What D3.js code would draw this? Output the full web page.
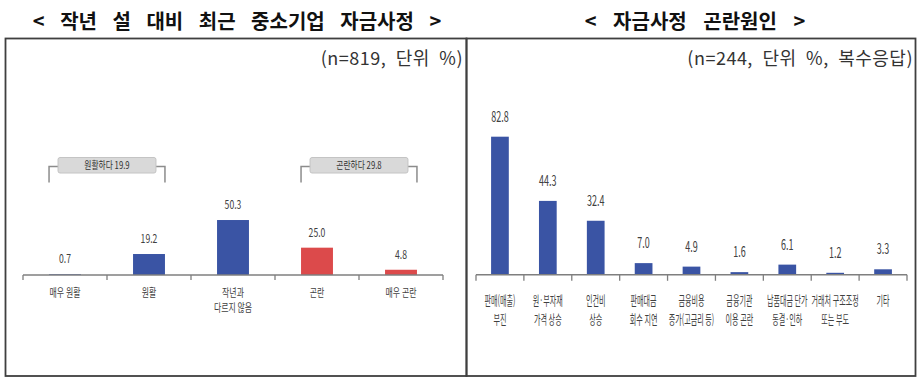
<!DOCTYPE html>
<html><head><meta charset="utf-8">
<script src="https://cdn.jsdelivr.net/npm/d3@7"></script>
<style>
html,body{margin:0;padding:0;background:#fff;}
svg{display:block;font-family:"Noto Sans CJK KR","Noto Sans",sans-serif;}
</style></head>
<body><svg id="c" width="922" height="380"></svg>
<script>
// ---- data ----
const leftTitle = "< 작년 설 대비 최근 중소기업 자금사정 >";
const leftNote = "(n=819, 단위 %)";
const leftCategories = [["매우 원활"], ["원활"], ["작년과", "다르지 않음"], ["곤란"], ["매우 곤란"]];
const leftValues = [0.7, 19.2, 50.3, 25.0, 4.8];
const leftColors = ["#3a54a4", "#3a54a4", "#3a54a4", "#dc4a4b", "#dc4a4b"];
const groupNames = ["원활하다", "곤란하다"];
const groupMembers = [[0, 1], [3, 4]];

const rightTitle = "< 자금사정 곤란원인 >";
const rightNote = "(n=244, 단위 %, 복수응답)";
const rightCategories = [["판매(매출)", "부진"], ["원·부자재", "가격 상승"], ["인건비", "상승"], ["판매대금", "회수 지연"],
  ["금융비용", "증가(고금리 등)"], ["금융기관", "이용 곤란"], ["납품대금 단가", "동결·인하"], ["거래처 구조조정", "또는 부도"], ["기타"]];
const rightValues = [82.8, 44.3, 32.4, 7.0, 4.9, 1.6, 6.1, 1.2, 3.3];
const rightColor = "#3a54a4";

// ---- drawing ----
const svg = d3.select("#c");
const txtCol = "#404040";

function ctext(parent, x, y, lines, size, sx, lh, opts = {}) {
  const g = parent.append("g").attr("transform", `translate(${x},${y}) scale(${sx},1)`);
  const t = g.append("text").attr("x", 0).attr("y", 0)
    .attr("text-anchor", "middle")
    .attr("font-size", size).attr("fill", opts.fill || txtCol);
  (Array.isArray(lines) ? lines : [lines]).forEach((s, j) => {
    t.append("tspan").attr("x", 0).attr("y", j * (lh || 0)).text(s);
  });
  return t;
}

// panel borders
const border = "#3f3f3f";
svg.append("rect").attr("x", 5.5).attr("y", 38.5).attr("width", 461).attr("height", 337.5)
  .attr("fill", "none").attr("stroke", border).attr("stroke-width", 1.8);
svg.append("rect").attr("x", 466.5).attr("y", 38.5).attr("width", 449).attr("height", 337.5)
  .attr("fill", "none").attr("stroke", border).attr("stroke-width", 1.8);

// titles
svg.append("text").attr("x", 237).attr("y", 28.5).attr("text-anchor", "middle")
  .attr("font-size", 20).attr("font-weight", "bold").attr("word-spacing", 11).attr("fill", "#111").text(leftTitle);
svg.append("text").attr("x", 695).attr("y", 28.5).attr("text-anchor", "middle")
  .attr("font-size", 20).attr("font-weight", "bold").attr("word-spacing", 12).attr("fill", "#111").text(rightTitle);
svg.append("text").attr("x", 463).attr("y", 65).attr("text-anchor", "end")
  .attr("font-size", 18).attr("word-spacing", 5).attr("letter-spacing", 0.5).attr("fill", "#333").text(leftNote);
svg.append("text").attr("x", 913).attr("y", 65).attr("text-anchor", "end")
  .attr("font-size", 18).attr("word-spacing", 5).attr("letter-spacing", 0.5).attr("fill", "#333").text(rightNote);

function drawChart(opt) {
  const n = opt.values.length;
  const idx = d3.range(n);
  const x = d3.scaleBand().domain(idx).range(opt.xRange)
    .paddingInner(opt.pad).paddingOuter(opt.pad / 2);
  const y = d3.scaleLinear().domain(opt.yDomain).range(opt.yRange);
  const g = svg.append("g");
  const bw = x.bandwidth();
  // bars
  g.selectAll("rect.bar").data(idx).join("rect").attr("class", "bar")
    .attr("x", i => x(i)).attr("width", bw)
    .attr("y", i => y(opt.values[i])).attr("height", i => y(0) - y(opt.values[i]))
    .attr("fill", i => opt.colors[i]);
  // axis
  const y0 = y(0);
  const axisG = g.append("g").attr("transform", `translate(0,${y0})`);
  const tickScale = d3.scaleLinear().domain([0, n]).range(opt.xRange);
  axisG.append("line").attr("x1", opt.xRange[0]).attr("x2", opt.xRange[1])
    .attr("stroke", "#7f7f7f").attr("stroke-width", 1.6);
  axisG.selectAll("line.tk").data(d3.range(n + 1)).join("line").attr("class", "tk")
    .attr("x1", k => tickScale(k)).attr("x2", k => tickScale(k))
    .attr("y1", 0).attr("y2", opt.tickLen).attr("stroke", "#7f7f7f").attr("stroke-width", 1.3);
  // value labels
  idx.forEach(i => {
    ctext(g, x(i) + bw / 2, y(opt.values[i]) - opt.labelGap, opt.values[i].toFixed(1), opt.valSize, opt.valSx);
  });
  // category labels
  idx.forEach(i => {
    ctext(g, x(i) + bw / 2, opt.catY, opt.cats[i], opt.catSize, opt.catSx, opt.catLH);
  });
  return { x, y, bw };
}

const L = drawChart({
  values: leftValues, colors: leftColors, cats: leftCategories,
  xRange: [23, 443], pad: 0.62, yDomain: [0, 60], yRange: [275, 275 - 60 * 1.093],
  tickLen: 5, labelGap: 11, valSize: 12, valSx: 0.72,
  catY: 296.5, catLH: 16, catSize: 11, catSx: 0.72
});

drawChart({
  values: rightValues, colors: rightValues.map(() => rightColor), cats: rightCategories,
  xRange: [476, 907], pad: 0.63, yDomain: [0, 90], yRange: [274.8, 274.8 - 90 * 1.668],
  tickLen: 6, labelGap: 15, valSize: 15, valSx: 0.6,
  catY: 305, catLH: 19, catSize: 13, catSx: 0.545
});

// group brackets (left chart)
groupMembers.forEach((m, k) => {
  const x1 = L.x(m[0]), x2 = L.x(m[m.length - 1]) + L.bw;
  const total = d3.sum(m, i => leftValues[i]);
  const yTop = 166.5, yBot = 182.5;
  const g = svg.append("g");
  g.append("path").attr("d", `M${x1},${yBot}V${yTop}H${x2}V${yBot}`)
    .attr("fill", "none").attr("stroke", "#8c8c8c").attr("stroke-width", 1.5);
  g.append("rect").attr("x", x1 + 9).attr("y", 157.5).attr("width", x2 - x1 - 18).attr("height", 15.5)
    .attr("rx", 2).attr("fill", "#d9d9d9").attr("stroke", "#c4c4c4").attr("stroke-width", 1);
  ctext(g, (x1 + x2) / 2, 169, `${groupNames[k]} ${total.toFixed(1)}`, 10.5, 0.74, 0, { fill: "#333" });
});
</script></body></html>
